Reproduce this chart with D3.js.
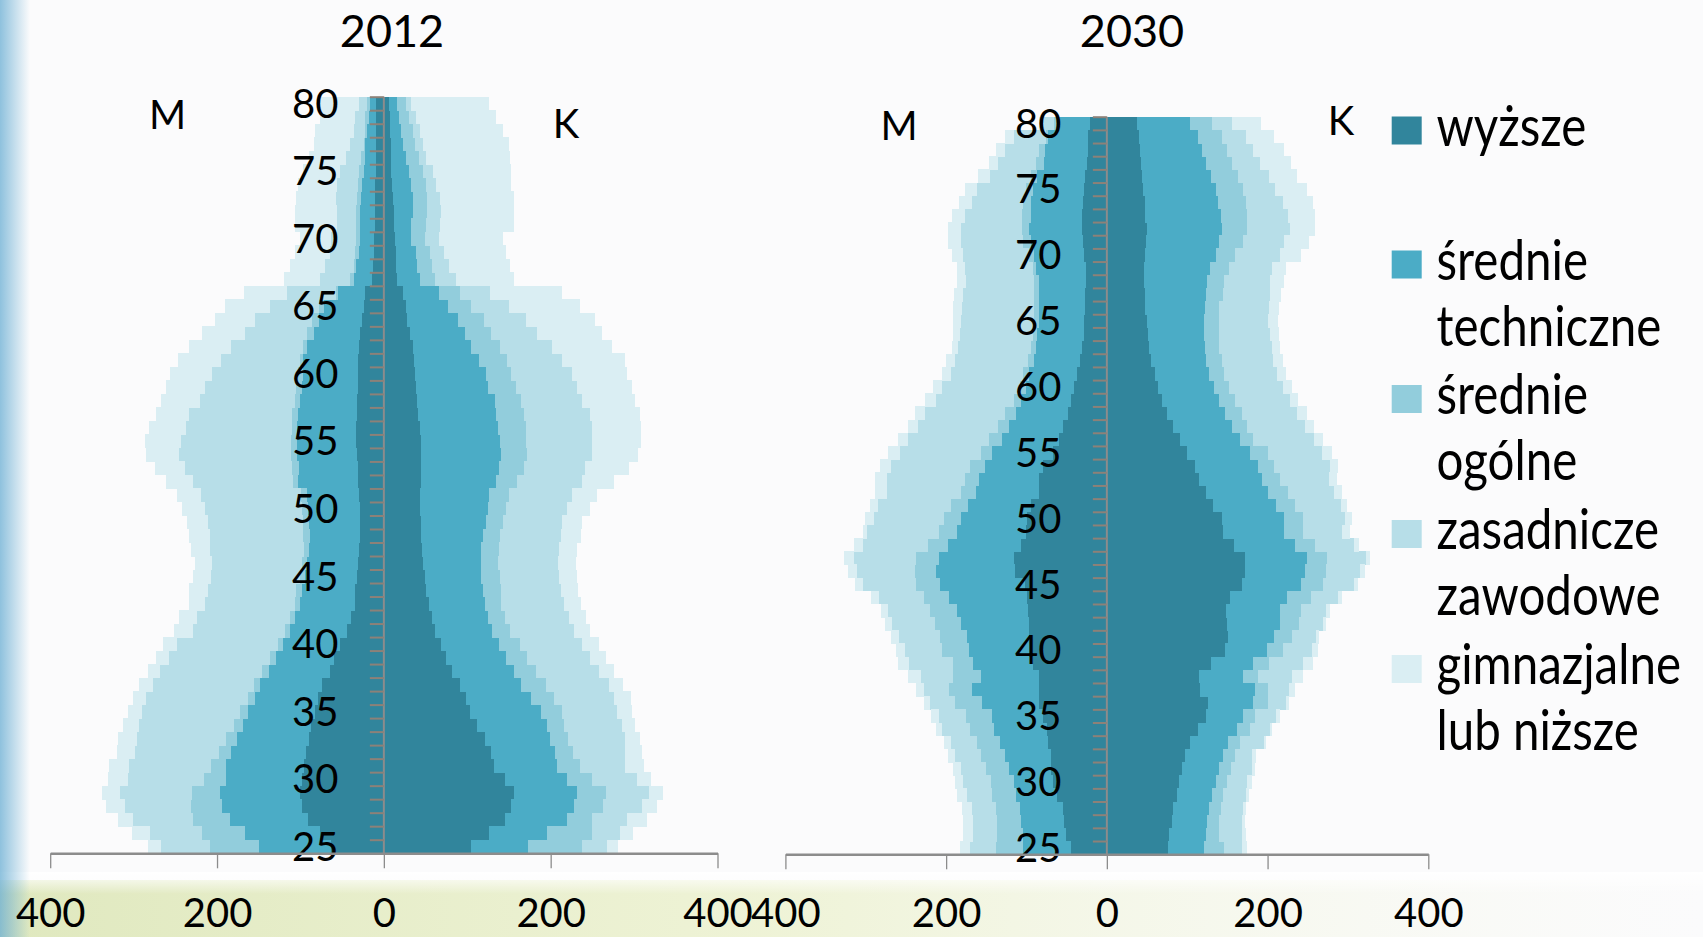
<!DOCTYPE html>
<html><head><meta charset="utf-8">
<script src="https://cdn.jsdelivr.net/npm/d3@7"></script>
<style>html,body{margin:0;padding:0;background:#fff;overflow:hidden}</style>
</head><body>
<svg id="c" width="1703" height="937"></svg>
<script>
// ---------- categories / labels ----------
const ages = [25,26,27,28,29,30,31,32,33,34,35,36,37,38,39,40,41,42,43,44,45,46,47,48,49,50,51,52,53,54,55,56,57,58,59,60,61,62,63,64,65,66,67,68,69,70,71,72,73,74,75,76,77,78,79,80];
const ageTickLabels = [25,30,35,40,45,50,55,60,65,70,75,80];
const xTickValues = [-400,-200,0,200,400];
const seriesKeys = ["wyzsze","techniczne","ogolne","zasadnicze","gimnazjalne"];
const legendLabels = [["wyższe"],["średnie","techniczne"],["średnie","ogólne"],["zasadnicze","zawodowe"],["gimnazjalne","lub niższe"]];
const seriesColors = ["#31859C","#4BACC6","#92CDDC","#B7DEE8","#DAEEF3"];
const years = ["2012","2030"];
const sexLabels = ["M","K"];

// ---------- 2012, men (M), ages 25..80 ----------
const m2012_wyzsze      = [63,76,91,98,101,98,96,93,90,87,82,79,74,65,60,52,44,39,35,34,32,31,30,29,29,29,30,31,31,32,33,33,32,32,31,31,31,30,28,26,24,22,14,13,12,12,11,11,11,11,10,10,10,10,10,10];
const m2012_techniczne  = [87,91,94,96,96,91,93,90,86,82,81,75,74,73,69,69,68,67,66,64,62,61,60,59,61,62,62,72,71,72,71,71,71,69,67,66,66,62,56,52,48,33,22,20,18,16,17,17,16,15,14,13,12,10,8,7];
const m2012_ogolne      = [59,51,44,37,33,27,18,15,13,11,9,9,8,8,7,6,6,7,6,7,7,6,6,9,7,7,7,6,8,7,7,6,7,6,7,6,4,5,8,8,6,2,4,3,4,5,5,5,5,5,6,4,2,3,4,3];
const m2012_zasadnicze  = [58,62,72,79,86,91,98,100,107,113,118,122,121,122,122,121,111,111,107,106,106,108,112,112,114,117,120,120,128,134,132,127,124,114,109,103,94,86,75,69,58,59,36,35,31,30,23,23,25,25,22,18,17,13,13,10];
const m2012_gimnazjalne = [16,22,18,23,22,24,24,22,23,20,17,16,16,15,15,17,22,22,20,23,22,21,23,25,25,27,29,32,36,40,43,44,39,46,47,50,52,51,51,48,54,52,44,42,41,38,50,50,48,47,45,45,43,47,41,45];

// ---------- 2012, women (K) ----------
const k2012_wyzsze      = [105,126,145,153,156,145,132,129,121,112,103,99,91,82,74,68,61,58,54,50,49,47,46,45,44,43,43,44,44,44,44,43,41,40,38,37,36,35,31,28,26,23,16,15,14,13,12,12,11,10,9,8,8,7,7,6];
const k2012_techniczne  = [68,70,74,75,76,74,75,76,78,84,85,77,74,74,73,70,69,67,67,69,68,69,71,74,79,82,83,90,94,96,95,94,93,93,87,86,78,70,66,61,51,43,27,25,24,19,21,23,24,22,21,19,15,14,11,10];
const k2012_ogolne      = [65,54,31,35,34,31,28,22,22,20,26,28,29,27,25,25,21,20,20,21,22,21,21,20,20,22,24,26,30,32,32,33,34,32,34,30,34,34,31,31,28,25,18,18,17,17,18,17,17,18,17,15,14,14,12,11];
const k2012_zasadnicze  = [29,33,42,46,52,54,54,62,68,69,66,72,76,75,75,75,77,77,75,72,71,72,72,73,71,72,75,78,73,77,79,80,79,73,73,72,66,62,56,51,45,36,25,20,17,17,16,16,15,13,12,8,10,8,9,6];
const k2012_gimnazjalne = [14,16,24,18,17,16,23,20,18,16,18,20,17,18,19,20,19,20,20,21,22,21,22,24,24,28,31,38,53,56,58,58,60,63,65,67,75,73,78,82,85,87,70,73,75,77,89,88,89,90,93,101,103,100,96,93];

// ---------- 2030, men (M) ----------
const m2030_wyzsze      = [45,51,53,55,62,67,69,70,73,74,79,84,85,85,92,97,97,97,98,99,102,114,115,107,101,99,94,85,84,79,67,60,55,48,45,41,37,33,31,29,28,27,27,26,26,28,30,31,31,30,29,27,25,24,23,21];
const m2030_techniczne  = [59,53,54,53,51,48,53,57,60,66,64,71,83,71,75,74,77,85,88,97,106,98,94,91,85,83,79,78,75,73,76,71,67,65,62,60,60,58,57,58,57,57,57,59,62,63,64,66,64,64,63,60,53,53,50,39];
const m2030_ogolne      = [34,33,30,30,30,29,28,29,28,30,32,34,28,35,24,34,33,32,34,32,30,27,28,25,23,21,21,19,17,18,14,16,14,14,9,7,7,7,7,5,6,7,7,6,4,6,10,9,10,10,9,7,10,7,3,6];
const m2030_zasadnicze  = [32,30,30,30,31,35,32,33,33,35,34,31,32,40,55,46,52,53,52,55,65,72,78,81,89,87,91,92,98,99,101,101,99,99,97,97,90,91,90,91,91,89,88,84,85,82,78,76,72,64,60,51,48,43,39,12];
const m2030_gimnazjalne = [13,12,12,12,12,10,9,9,9,7,10,8,9,17,14,11,10,9,9,11,11,11,12,11,6,11,10,14,14,13,14,12,13,13,13,11,11,11,8,9,9,11,11,11,9,14,16,16,16,16,15,15,11,11,12,7];

// ---------- 2030, women (K) ----------
const k2030_wyzsze      = [76,77,81,82,87,90,93,97,103,114,124,126,116,115,129,147,151,150,148,153,168,172,172,158,145,143,132,123,115,110,100,91,82,75,69,64,60,55,52,51,50,48,47,46,46,47,49,50,48,47,45,44,42,41,40,37];
const k2030_techniczne  = [45,46,44,45,44,46,47,47,48,48,46,56,68,55,53,52,57,65,67,71,73,75,77,76,75,77,78,78,78,78,78,75,74,72,70,69,67,68,70,70,71,74,77,79,82,89,91,93,94,91,91,86,82,78,73,66];
const k2030_ogolne      = [25,17,15,15,14,14,14,15,15,16,14,18,17,18,20,20,22,24,27,30,28,26,25,25,24,24,24,24,22,20,23,16,19,21,21,19,19,20,18,18,18,18,21,21,24,24,30,32,33,35,34,33,32,31,30,28];
const k2030_zasadnicze  = [22,28,28,27,28,25,26,21,29,25,27,23,26,43,42,36,30,30,31,34,38,42,48,48,49,52,57,58,62,70,67,76,71,69,68,67,66,64,65,64,61,62,58,57,54,56,51,53,51,46,39,39,35,32,30,25];
const k2030_gimnazjalne = [7,5,4,4,4,5,4,5,3,3,4,4,7,13,13,8,4,4,5,4,5,6,5,7,9,9,8,9,9,10,12,11,12,12,10,11,11,12,11,11,13,12,14,18,17,26,31,31,33,38,40,35,38,38,35,36];

// ---------- build tables ----------
function table(w,t,o,z,g){
  return ages.map((a,i)=>({age:a, wyzsze:w[i], techniczne:t[i], ogolne:o[i], zasadnicze:z[i], gimnazjalne:g[i]}));
}
const charts = [
  {year:years[0], men:table(m2012_wyzsze,m2012_techniczne,m2012_ogolne,m2012_zasadnicze,m2012_gimnazjalne),
   women:table(k2012_wyzsze,k2012_techniczne,k2012_ogolne,k2012_zasadnicze,k2012_gimnazjalne),
   xr:[50.2,717.5], yr:[96.7,853.2], axisY:853.3, titleX:392, mPos:[167.5,129.3], kPos:[566,138.3]},
  {year:years[1], men:table(m2030_wyzsze,m2030_techniczne,m2030_ogolne,m2030_zasadnicze,m2030_gimnazjalne),
   women:table(k2030_wyzsze,k2030_techniczne,k2030_ogolne,k2030_zasadnicze,k2030_gimnazjalne),
   xr:[785.4,1428.3], yr:[116.7,854.2], axisY:854.3, titleX:1132, mPos:[899,140], kPos:[1341,135]}
];

const FONT = "Lato, 'Open Sans', sans-serif";
const svg = d3.select("#c");

// ---------- background decoration ----------
const defs = svg.append("defs");
const gl = defs.append("linearGradient").attr("id","gLeft").attr("x1",0).attr("x2",1).attr("y1",0).attr("y2",0);
gl.append("stop").attr("offset","0%").attr("stop-color","#6aaed3").attr("stop-opacity",0.75);
gl.append("stop").attr("offset","100%").attr("stop-color","#6aaed3").attr("stop-opacity",0);
const gb = defs.append("linearGradient").attr("id","gBottom").attr("x1",0).attr("x2",1).attr("y1",0).attr("y2",0);
gb.append("stop").attr("offset","0%").attr("stop-color","#c9d98c").attr("stop-opacity",0.55);
gb.append("stop").attr("offset","45%").attr("stop-color","#dfe9a8").attr("stop-opacity",0.45);
gb.append("stop").attr("offset","100%").attr("stop-color","#eef3d4").attr("stop-opacity",0);
const gv = defs.append("linearGradient").attr("id","gBottomV").attr("x1",0).attr("x2",0).attr("y1",0).attr("y2",1);
gv.append("stop").attr("offset","0%").attr("stop-color","#ffffff").attr("stop-opacity",1);
gv.append("stop").attr("offset","100%").attr("stop-color","#ffffff").attr("stop-opacity",0);

svg.append("rect").attr("x",0).attr("y",0).attr("width",1703).attr("height",937).attr("fill","#fbfbfc");
svg.append("rect").attr("x",0).attr("y",880).attr("width",1703).attr("height",57).attr("fill","url(#gBottom)");
svg.append("rect").attr("x",0).attr("y",872).attr("width",1703).attr("height",22).attr("fill","url(#gBottomV)");
svg.append("rect").attr("x",0).attr("y",0).attr("width",30).attr("height",937).attr("fill","url(#gLeft)");

// ---------- charts ----------
const stack = d3.stack().keys(seriesKeys);
const AXIS_LABEL_BASELINE = 927;

charts.forEach(ch=>{
  const g = svg.append("g");
  const x = d3.scaleLinear().domain([-400,400]).range(ch.xr);
  const y = d3.scaleBand().domain(ages.slice().reverse()).range(ch.yr).padding(0);
  const bw = y.bandwidth();
  const x0 = x(0);

  [["men",-1],["women",1]].forEach(([side,sgn])=>{
    const series = stack(ch[side]);
    series.forEach((s,si)=>{
      g.append("g").attr("fill",seriesColors[si]).selectAll("rect").data(s).join("rect")
        .attr("shape-rendering","crispEdges")
        .attr("x",d=>Math.min(x(sgn*d[0]),x(sgn*d[1])))
        .attr("width",d=>Math.abs(x(sgn*d[1])-x(sgn*d[0])))
        .attr("y",d=>y(d.data.age))
        .attr("height",bw+0.5);
    });
  });

  // vertical axis line + tick marks between categories
  g.append("line").attr("x1",x0).attr("x2",x0).attr("y1",ch.yr[0]).attr("y2",ch.axisY)
    .attr("stroke","#8c8c8c").attr("stroke-width",2);
  g.append("g").selectAll("line").data(ages).join("line")
    .attr("x1",x0-14).attr("x2",x0)
    .attr("y1",d=>y(d)+0.5).attr("y2",d=>y(d)+0.5)
    .attr("stroke","#8d8178").attr("stroke-width",2);

  // age labels
  g.append("g").selectAll("text").data(ageTickLabels).join("text")
    .attr("x",x0-45.5).attr("y",d=>y(d)+bw/2+14.3)
    .attr("text-anchor","end").attr("font-family",FONT).attr("font-size",40).attr("fill","#000")
    .text(d=>d);

  // bottom axis
  const ax = d3.axisBottom(x).tickValues(xTickValues).tickFormat(d=>Math.abs(d))
    .tickSize(15).tickSizeOuter(0);
  const axg = g.append("g").attr("transform",`translate(0,${ch.axisY})`).call(ax);
  axg.select(".domain").attr("stroke","#8c8c8c").attr("stroke-width",2.5);
  axg.selectAll(".tick line").attr("stroke","#8c8c8c").attr("stroke-width",1.3);
  axg.selectAll(".tick text").attr("font-family",FONT).attr("font-size",40).attr("fill","#000")
    .attr("dy",null).attr("y",AXIS_LABEL_BASELINE-ch.axisY);

  // title and sex labels
  g.append("text").attr("x",ch.titleX).attr("y",46.5).attr("text-anchor","middle")
    .attr("font-family",FONT).attr("font-size",45).attr("fill","#000").text(ch.year);
  g.append("text").attr("x",ch.mPos[0]).attr("y",ch.mPos[1]).attr("text-anchor","middle")
    .attr("font-family",FONT).attr("font-size",40).attr("fill","#000").text(sexLabels[0]);
  g.append("text").attr("x",ch.kPos[0]).attr("y",ch.kPos[1]).attr("text-anchor","middle")
    .attr("font-family",FONT).attr("font-size",40).attr("fill","#000").text(sexLabels[1]);
});

// ---------- legend ----------
const legendBaselines = [145.5,279.5,414,549,684];
const lineStep = 66;
const stretchY = 1.18;
const lg = svg.append("g");
legendLabels.forEach((lines,i)=>{
  const b = legendBaselines[i];
  lg.append("rect").attr("x",1391.7).attr("y",b-29).attr("width",30).attr("height",28).attr("fill",seriesColors[i]);
  lines.forEach((t,j)=>{
    const by = b + j*lineStep;
    lg.append("text").attr("transform",`translate(1436.5,${by}) scale(1,${stretchY})`)
      .attr("x",0).attr("y",0)
      .attr("font-family",FONT).attr("font-size",47.5).attr("fill","#000").text(t);
  });
});
</script>
</body></html>
